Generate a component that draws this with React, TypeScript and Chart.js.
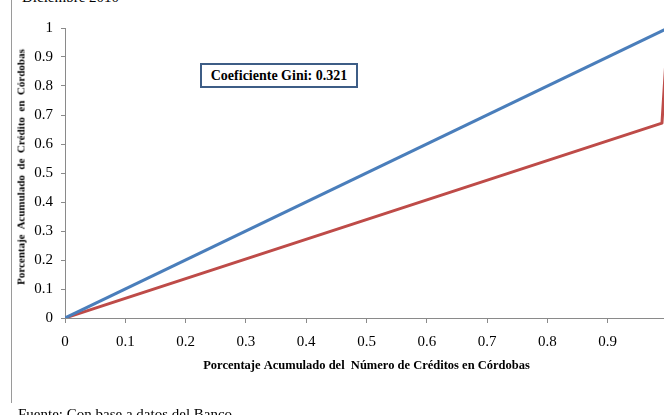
import React, { useEffect, useRef } from "react";
import { Chart, registerables } from "chart.js";

Chart.register(...registerables);

const equalityX = [0, 1];
const equalityY = [0, 1];
const lorenzX = [0, 0.99, 1];
const lorenzY = [0, 0.672, 1];
const xTitle = "Porcentaje Acumulado del  Número de Créditos en Córdobas";
const yTitle = "Porcentaje  Acumulado  de  Crédito  en  Córdobas";
const giniLabel = "Coeficiente Gini: 0.321";
const topText = "Diciembre 2010";
const sourceText = "Fuente: Con base a datos del Banco";

const fmt = (v: number | string) => {
  const n = Number(v);
  return String(Number(n.toFixed(1)));
};

export default function App() {
  const ref = useRef<HTMLCanvasElement | null>(null);
  useEffect(() => {
    if (!ref.current) return;
    const chart = new Chart(ref.current, {
      type: "line",
      data: {
        datasets: [
          {
            data: equalityX.map((x, i) => ({ x, y: equalityY[i] })),
            borderColor: "#4a7ebb",
            borderWidth: 3,
            pointRadius: 0,
            tension: 0,
          },
          {
            data: lorenzX.map((x, i) => ({ x, y: lorenzY[i] })),
            borderColor: "#be4b48",
            borderWidth: 3,
            pointRadius: 0,
            tension: 0,
            borderJoinStyle: "round",
          },
        ],
      },
      options: {
        responsive: false,
        animation: false,
        events: [],
        layout: { padding: { left: 0, right: 32, top: 28, bottom: 0 } },
        plugins: { legend: { display: false }, tooltip: { enabled: false } },
        scales: {
          x: {
            type: "linear",
            min: 0,
            max: 1,
            afterFit: (s: any) => {
              s.height = 97;
            },
            border: { display: true, color: "#8a8a8a", width: 1 },
            grid: { drawOnChartArea: false, drawTicks: true, tickLength: 5, color: "#8a8a8a" },
            ticks: {
              stepSize: 0.1,
              padding: 10,
              color: "#000",
              font: { family: "Liberation Serif", size: 15 },
              callback: (v: any) => fmt(v),
              maxRotation: 0,
            },
            title: {
              display: true,
              text: xTitle,
              color: "#000",
              font: { family: "Liberation Serif", size: 12.5, weight: "bold" },
              padding: { top: 0, bottom: 42 },
            },
          },
          y: {
            type: "linear",
            min: 0,
            max: 1,
            afterFit: (s: any) => {
              s.width = 65;
            },
            border: { display: true, color: "#8a8a8a", width: 1 },
            grid: { drawOnChartArea: false, drawTicks: true, tickLength: 4, color: "#8a8a8a" },
            ticks: {
              stepSize: 0.1,
              padding: 8,
              color: "#000",
              font: { family: "Liberation Serif", size: 15 },
              callback: (v: any) => fmt(v),
            },
            title: { display: false },
          },
        },
      },
    });
    return () => chart.destroy();
  }, []);

  return (
    <div
      style={{
        position: "fixed",
        left: 0,
        top: 0,
        width: 664,
        height: 415,
        overflow: "hidden",
        background: "#fff",
      }}
    >
      <div
        style={{
          position: "absolute",
          left: 11,
          top: 0,
          width: 1,
          height: 403,
          background: "#9a9a9a",
        }}
      />
      <div
        style={{
          position: "absolute",
          left: 22,
          top: -11,
          fontFamily: "Liberation Serif",
          fontSize: 15,
          lineHeight: "17px",
          color: "#000",
          whiteSpace: "nowrap",
        }}
      >
        {topText}
      </div>
      <canvas
        ref={ref}
        width={700}
        height={415}
        style={{ position: "absolute", left: 0, top: 0, width: 700, height: 415 }}
      />
      <div
        style={{
          position: "absolute",
          left: 21,
          top: 166.5,
          transform: "translate(-50%, -50%) rotate(-90deg)",
          fontFamily: "Liberation Serif",
          fontWeight: "bold",
          fontSize: 11,
          lineHeight: "13px",
          color: "#000",
          whiteSpace: "pre",
        }}
      >
        {yTitle}
      </div>
      <div
        style={{
          position: "absolute",
          left: 200,
          top: 63,
          width: 154,
          height: 21,
          border: "2px solid #3d5d86",
          background: "#fff",
          display: "flex",
          alignItems: "center",
          justifyContent: "center",
          fontFamily: "Liberation Serif",
          fontWeight: "bold",
          fontSize: 14,
          color: "#000",
          whiteSpace: "nowrap",
        }}
      >
        {giniLabel}
      </div>
      <div
        style={{
          position: "absolute",
          left: 18,
          top: 406,
          fontFamily: "Liberation Serif",
          fontSize: 15,
          lineHeight: "17px",
          color: "#000",
          whiteSpace: "nowrap",
        }}
      >
        {sourceText}
      </div>
    </div>
  );
}
